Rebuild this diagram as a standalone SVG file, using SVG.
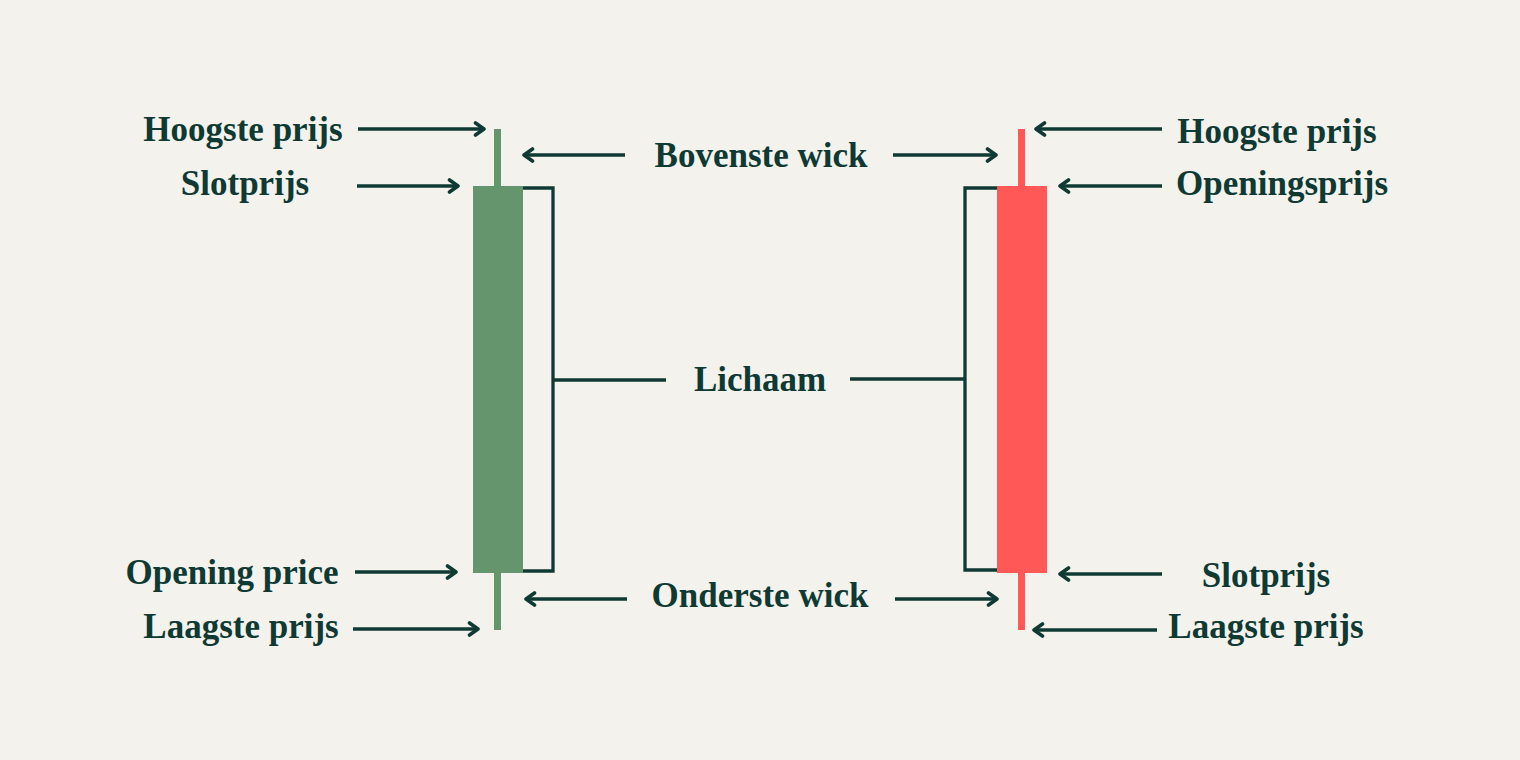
<svg xmlns="http://www.w3.org/2000/svg" width="1520" height="760" viewBox="0 0 1520 760">
<defs>
<marker id="ah" viewBox="0 0 14 16" refX="11" refY="8" markerWidth="14" markerHeight="16" markerUnits="userSpaceOnUse" orient="auto">
<path d="M2.5,2 L11,8 L2.5,14" fill="none" stroke="#0F3A33" stroke-width="3.6" stroke-linecap="round" stroke-linejoin="round"/>
</marker>
<style>
.t{font-family:"Liberation Serif","DejaVu Serif",serif;font-weight:bold;font-size:35px;fill:#0F3A33;text-anchor:middle}
.a{stroke:#0F3A33;stroke-width:3.5;fill:none;marker-end:url(#ah)}
.b{stroke:#0F3A33;stroke-width:3.3;fill:none}
</style>
</defs>
<rect width="1520" height="760" fill="#F3F2ED"/>
<g id="green-candle">
<rect x="494" y="129" width="7" height="501" fill="#64956C"/>
<rect x="473" y="186" width="50" height="387" fill="#64956C"/>
</g>
<g id="red-candle">
<rect x="1018" y="129" width="7" height="501" fill="#FF5856"/>
<rect x="997" y="186" width="50" height="387" fill="#FF5856"/>
</g>
<g id="connectors">
<path class="b" d="M523,188 H553 V571 H523 M553,380 H666"/>
<path class="b" d="M997,188 H965 V570 H997 M965,379 H850"/>
<line class="a" x1="358" y1="129" x2="484" y2="129"/>
<line class="a" x1="357" y1="186" x2="458" y2="186"/>
<line class="a" x1="625" y1="155" x2="524" y2="155"/>
<line class="a" x1="893" y1="155" x2="996" y2="155"/>
<line class="a" x1="355" y1="572" x2="456" y2="572"/>
<line class="a" x1="353" y1="629" x2="478" y2="629"/>
<line class="a" x1="627" y1="599" x2="526" y2="599"/>
<line class="a" x1="895" y1="599" x2="997" y2="599"/>
<line class="a" x1="1162" y1="129" x2="1036" y2="129"/>
<line class="a" x1="1162" y1="186" x2="1060" y2="186"/>
<line class="a" x1="1162" y1="574" x2="1060" y2="574"/>
<line class="a" x1="1157" y1="630" x2="1034" y2="630"/>
</g>
<g id="label-hoogste-left"><text class="t" x="243" y="141">Hoogste prijs</text></g>
<g id="label-slot-left"><text class="t" x="245" y="195">Slotprijs</text></g>
<g id="label-bovenste"><text class="t" x="761" y="167">Bovenste wick</text></g>
<g id="label-lichaam"><text class="t" x="760" y="391">Lichaam</text></g>
<g id="label-opening-left"><text class="t" x="232" y="584">Opening price</text></g>
<g id="label-laagste-left"><text class="t" x="241" y="638">Laagste prijs</text></g>
<g id="label-onderste"><text class="t" x="760" y="607">Onderste wick</text></g>
<g id="label-hoogste-right"><text class="t" x="1277" y="143">Hoogste prijs</text></g>
<g id="label-opening-right"><text class="t" x="1282" y="195">Openingsprijs</text></g>
<g id="label-slot-right"><text class="t" x="1266" y="587">Slotprijs</text></g>
<g id="label-laagste-right"><text class="t" x="1266" y="638">Laagste prijs</text></g>
</svg>
